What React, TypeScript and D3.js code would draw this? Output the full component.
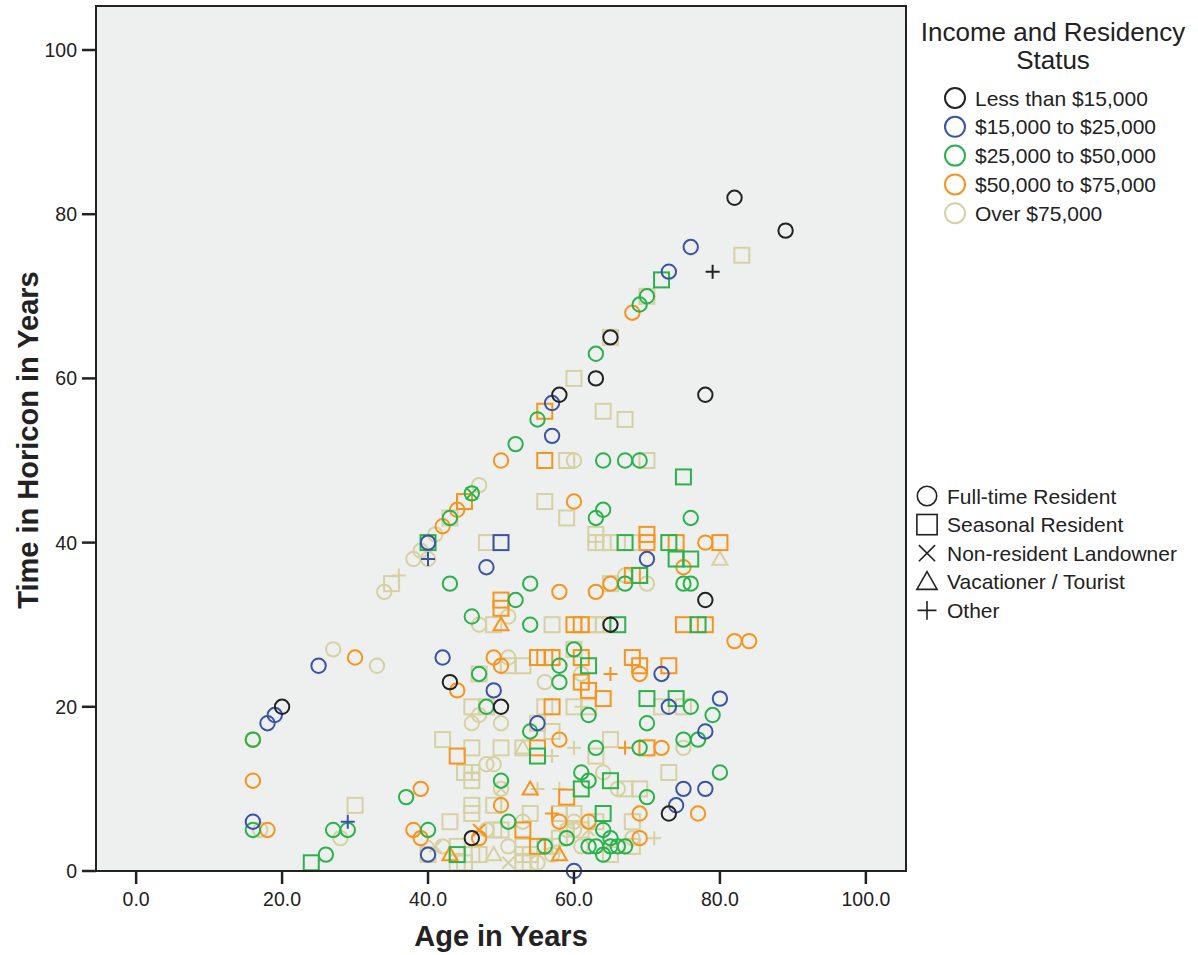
import React from "react";
import * as d3 from "d3";

// Each point: [age, years in Horicon, residency code]
// F = Full-time Resident, S = Seasonal Resident, N = Non-resident Landowner, V = Vacationer / Tourist, O = Other
type Pt = [number, number, string];

const incomeLabels = ["Less than $15,000", "$15,000 to $25,000", "$25,000 to $50,000", "$50,000 to $75,000", "Over $75,000"];
const incomeColors = ["#222222", "#3b53a6", "#2bb24c", "#f7941d", "#d6d1a2"];
const residencyLabels = ["Full-time Resident", "Seasonal Resident", "Non-resident Landowner", "Vacationer / Tourist", "Other"];
const residencyCodes = ["F", "S", "N", "V", "O"];
const xTicks = [0, 20, 40, 60, 80, 100];
const yTicks = [0, 20, 40, 60, 80, 100];

const over75: Pt[] = [
  [47, 47, "F"], [41, 41, "F"], [39, 39, "F"], [38, 38, "F"], [40, 38, "F"], [34, 34, "F"], [27, 27, "F"], [33, 25, "F"],
  [28, 4, "F"], [17, 5, "F"], [60, 50, "F"], [51, 26, "F"], [61, 24, "F"], [56, 23, "F"], [47, 19, "F"], [46, 18, "F"],
  [50, 18, "F"], [48, 13, "F"], [49, 13, "F"], [75, 15, "F"], [70, 35, "F"], [67, 36, "F"], [64, 12, "F"], [66, 10, "F"],
  [50, 10, "F"], [51, 31, "F"], [47, 30, "F"], [59, 5, "F"], [60, 5, "F"], [60, 6, "F"], [53, 6, "F"], [42, 3, "F"],
  [51, 3, "F"], [55, 1, "F"], [68, 4, "F"], [59, 4, "F"], [61, 3, "F"], [57, 2, "F"], [48, 5, "F"],
  [83, 75, "S"], [70, 70, "S"], [65, 65, "S"], [60, 60, "S"], [64, 56, "S"], [67, 55, "S"], [59, 50, "S"], [70, 50, "S"],
  [56, 45, "S"], [59, 43, "S"], [48, 40, "S"], [63, 40, "S"], [64, 40, "S"], [65, 40, "S"], [68, 40, "S"], [63, 41, "S"],
  [43, 43, "S"], [35, 35, "S"], [65, 35, "S"], [49, 30, "S"], [57, 30, "S"], [62, 30, "S"], [63, 30, "S"], [64, 30, "S"],
  [60, 27, "S"], [47, 24, "S"], [51, 25, "S"], [53, 25, "S"], [46, 20, "S"], [48, 20, "S"], [56, 20, "S"], [60, 20, "S"],
  [62, 20, "S"], [72, 20, "S"], [75, 20, "S"], [55, 18, "S"], [57, 17, "S"], [42, 16, "S"], [65, 16, "S"], [46, 15, "S"],
  [50, 15, "S"], [53, 15, "S"], [63, 14, "S"], [45, 12, "S"], [46, 12, "S"], [46, 11, "S"], [73, 12, "S"], [67, 10, "S"],
  [69, 10, "S"], [30, 8, "S"], [46, 8, "S"], [46, 7, "S"], [49, 8, "S"], [54, 7, "S"], [58, 7, "S"], [60, 7, "S"],
  [43, 6, "S"], [68, 6, "S"], [49, 5, "S"], [50, 5, "S"], [40, 2, "S"], [68, 3, "S"], [44, 3, "S"], [45, 1, "S"],
  [46, 2, "S"], [53, 3, "S"], [53, 2, "S"], [53, 1, "S"], [54, 2, "S"], [54, 1, "S"], [56, 3, "S"], [57, 3, "S"],
  [44, 1, "S"], [65, 2, "S"], [61, 5, "S"], [63, 6, "S"], [47, 2, "S"], [58, 4, "S"],
  [80, 38, "V"], [53, 15, "V"], [49, 2, "V"],
  [41, 3, "N"], [51, 1, "N"], [50, 10, "N"], [62, 5, "N"],
  [36, 36, "O"], [61, 20, "O"], [57, 14, "O"], [60, 15, "O"], [55, 10, "O"], [58, 10, "O"], [71, 4, "O"], [46, 12, "O"],
];

const from50to75: Pt[] = [
  [68, 68, "F"], [50, 50, "F"], [60, 45, "F"], [44, 44, "F"], [42, 42, "F"], [58, 34, "F"], [63, 34, "F"], [65, 35, "F"],
  [82, 28, "F"], [84, 28, "F"], [78, 40, "F"], [75, 37, "F"], [49, 26, "F"], [50, 25, "F"], [44, 22, "F"], [69, 24, "F"],
  [72, 15, "F"], [69, 7, "F"], [77, 7, "F"], [69, 4, "F"], [58, 16, "F"], [50, 8, "F"], [58, 6, "F"], [62, 6, "F"],
  [38, 5, "F"], [39, 4, "F"], [39, 10, "F"], [16, 11, "F"], [18, 5, "F"], [30, 26, "F"], [16, 16, "F"], [47, 4, "F"],
  [56, 56, "S"], [56, 50, "S"], [45, 45, "S"], [50, 33, "S"], [50, 32, "S"], [60, 30, "S"], [61, 30, "S"], [75, 30, "S"],
  [78, 30, "S"], [70, 41, "S"], [70, 40, "S"], [74, 40, "S"], [80, 40, "S"], [68, 36, "S"], [69, 36, "S"], [55, 26, "S"],
  [56, 26, "S"], [57, 26, "S"], [61, 26, "S"], [68, 26, "S"], [69, 25, "S"], [73, 25, "S"], [61, 23, "S"], [62, 22, "S"],
  [64, 21, "S"], [57, 20, "S"], [44, 14, "S"], [55, 15, "S"], [70, 15, "S"], [59, 9, "S"], [53, 5, "S"], [55, 3, "S"],
  [50, 30, "V"], [54, 10, "V"], [43, 2, "V"], [58, 2, "V"],
  [47, 5, "N"],
  [65, 24, "O"], [67, 15, "O"], [57, 7, "O"],
];

const from25to50: Pt[] = [
  [63, 63, "F"], [70, 70, "F"], [69, 69, "F"], [55, 55, "F"], [52, 52, "F"], [64, 50, "F"], [67, 50, "F"], [69, 50, "F"],
  [64, 44, "F"], [63, 43, "F"], [76, 43, "F"], [46, 46, "F"], [43, 43, "F"], [43, 35, "F"], [54, 35, "F"], [52, 33, "F"],
  [46, 31, "F"], [54, 30, "F"], [75, 35, "F"], [76, 35, "F"], [67, 35, "F"], [60, 27, "F"], [58, 25, "F"], [47, 24, "F"],
  [48, 20, "F"], [58, 23, "F"], [62, 19, "F"], [54, 17, "F"], [63, 15, "F"], [61, 12, "F"], [62, 11, "F"], [50, 11, "F"],
  [70, 18, "F"], [76, 20, "F"], [79, 19, "F"], [75, 16, "F"], [77, 16, "F"], [69, 15, "F"], [80, 12, "F"], [70, 9, "F"],
  [16, 5, "F"], [27, 5, "F"], [29, 5, "F"], [26, 2, "F"], [37, 9, "F"], [40, 5, "F"], [51, 6, "F"], [56, 3, "F"],
  [59, 4, "F"], [62, 3, "F"], [63, 3, "F"], [64, 2, "F"], [65, 4, "F"], [65, 3, "F"], [66, 3, "F"], [67, 3, "F"],
  [16, 16, "F"], [64, 5, "F"],
  [72, 72, "S"], [40, 40, "S"], [75, 48, "S"], [66, 30, "S"], [77, 30, "S"], [67, 40, "S"], [73, 40, "S"], [74, 38, "S"],
  [76, 38, "S"], [69, 36, "S"], [62, 25, "S"], [70, 21, "S"], [74, 21, "S"], [55, 14, "S"], [61, 10, "S"], [65, 11, "S"],
  [64, 7, "S"], [44, 2, "S"], [24, 1, "S"],
  [46, 46, "N"],
];

const from15to25: Pt[] = [
  [76, 76, "F"], [73, 73, "F"], [57, 57, "F"], [57, 53, "F"], [48, 37, "F"], [40, 40, "F"], [42, 26, "F"], [25, 25, "F"],
  [19, 19, "F"], [18, 18, "F"], [16, 6, "F"], [49, 22, "F"], [55, 18, "F"], [72, 24, "F"], [70, 38, "F"], [73, 20, "F"],
  [80, 21, "F"], [78, 17, "F"], [75, 10, "F"], [78, 10, "F"], [74, 8, "F"], [60, 0, "F"], [40, 2, "F"],
  [50, 40, "S"],
  [40, 38, "O"], [29, 6, "O"],
];

const under15: Pt[] = [
  [82, 82, "F"], [89, 78, "F"], [63, 60, "F"], [58, 58, "F"], [78, 58, "F"], [65, 65, "F"], [50, 20, "F"], [20, 20, "F"],
  [43, 23, "F"], [65, 30, "F"], [78, 33, "F"], [73, 7, "F"], [46, 4, "F"],
  [79, 73, "O"],
];

const seriesByIncome: Pt[][] = [under15, from15to25, from25to50, from50to75, over75];
const drawOrder = [4, 3, 2, 1, 0];

const W = 1198;
const H = 955;
const frame = { left: 96, right: 906, top: 6, bottom: 871 };
const FONT = "'Liberation Sans', Arial, Helvetica, sans-serif";

function Marker({ code, cx, cy, color, s = 1, sw = 2 }: { code: string; cx: number; cy: number; color: string; s?: number; sw?: number }) {
  const common = { fill: "none", stroke: color, strokeWidth: sw };
  if (code === "F") return <circle cx={cx} cy={cy} r={7.2 * s} {...common} />;
  if (code === "S") return <rect x={cx - 7.5 * s} y={cy - 7.5 * s} width={15 * s} height={15 * s} {...common} />;
  if (code === "N") {
    const p = d3.path();
    const a = 6 * s;
    p.moveTo(cx - a, cy - a); p.lineTo(cx + a, cy + a);
    p.moveTo(cx + a, cy - a); p.lineTo(cx - a, cy + a);
    return <path d={p.toString()} {...common} />;
  }
  if (code === "V") {
    const p = d3.path();
    const a = 7.5 * s;
    p.moveTo(cx, cy - a); p.lineTo(cx + a, cy + a * 0.75); p.lineTo(cx - a, cy + a * 0.75); p.closePath();
    return <path d={p.toString()} {...common} strokeLinejoin="miter" />;
  }
  const p = d3.path();
  const a = 7 * s;
  p.moveTo(cx - a, cy); p.lineTo(cx + a, cy);
  p.moveTo(cx, cy - a); p.lineTo(cx, cy + a);
  return <path d={p.toString()} {...common} />;
}

export default function App() {
  const x = d3.scaleLinear().domain([-5.5, 105.5]).range([frame.left, frame.right]);
  const y = d3.scaleLinear().domain([0, 105.36]).range([frame.bottom, frame.top]);
  const fx = d3.format(".1f");

  return (
    <svg width={W} height={H} style={{ position: "absolute", left: 0, top: 0, display: "block", background: "#ffffff" }} fontFamily={FONT}>
      <rect x={frame.left} y={frame.top} width={frame.right - frame.left} height={frame.bottom - frame.top} fill="#eef0ef" />
      <g>
        {drawOrder.map((gi) =>
          seriesByIncome[gi].map((d, i) => (
            <Marker key={`${gi}-${i}`} code={d[2]} cx={x(d[0])} cy={y(d[1])} color={incomeColors[gi]} />
          ))
        )}
      </g>
      <rect x={frame.left} y={frame.top} width={frame.right - frame.left} height={frame.bottom - frame.top} fill="none" stroke="#222" strokeWidth={2} />
      {yTicks.map((t) => (
        <g key={`y${t}`}>
          <line x1={82} x2={frame.left} y1={y(t)} y2={y(t)} stroke="#222" strokeWidth={2.5} />
          <text x={77} y={y(t)} dy="0.36em" textAnchor="end" fontSize={19.5} fill="#222">{t}</text>
        </g>
      ))}
      {xTicks.map((t) => (
        <g key={`x${t}`}>
          <line x1={x(t)} x2={x(t)} y1={frame.bottom} y2={frame.bottom + 13} stroke="#222" strokeWidth={2.5} />
          <text x={x(t)} y={frame.bottom + 35} textAnchor="middle" fontSize={19.5} fill="#222">{fx(t)}</text>
        </g>
      ))}
      <text x={501} y={946} textAnchor="middle" fontSize={29} fontWeight="bold" fill="#222">Age in Years</text>
      <text transform={`translate(38,440) rotate(-90)`} textAnchor="middle" fontSize={29} fontWeight="bold" fill="#222">Time in Horicon in Years</text>

      <text x={1053} y={41} textAnchor="middle" fontSize={26} fill="#222">Income and Residency</text>
      <text x={1053} y={69} textAnchor="middle" fontSize={26} fill="#222">Status</text>
      {incomeLabels.map((lab, i) => (
        <g key={lab}>
          <circle cx={955} cy={98 + i * 28.8} r={10} fill="none" stroke={incomeColors[i]} strokeWidth={2} />
          <text x={975} y={98 + i * 28.8} dy="0.36em" fontSize={21} fill="#222">{lab}</text>
        </g>
      ))}
      {residencyLabels.map((lab, i) => (
        <g key={lab}>
          <Marker code={residencyCodes[i]} cx={927} cy={496 + i * 28.6} color="#222" s={1.35} sw={1.6} />
          <text x={947} y={496 + i * 28.6} dy="0.36em" fontSize={21} fill="#222">{lab}</text>
        </g>
      ))}
    </svg>
  );
}
